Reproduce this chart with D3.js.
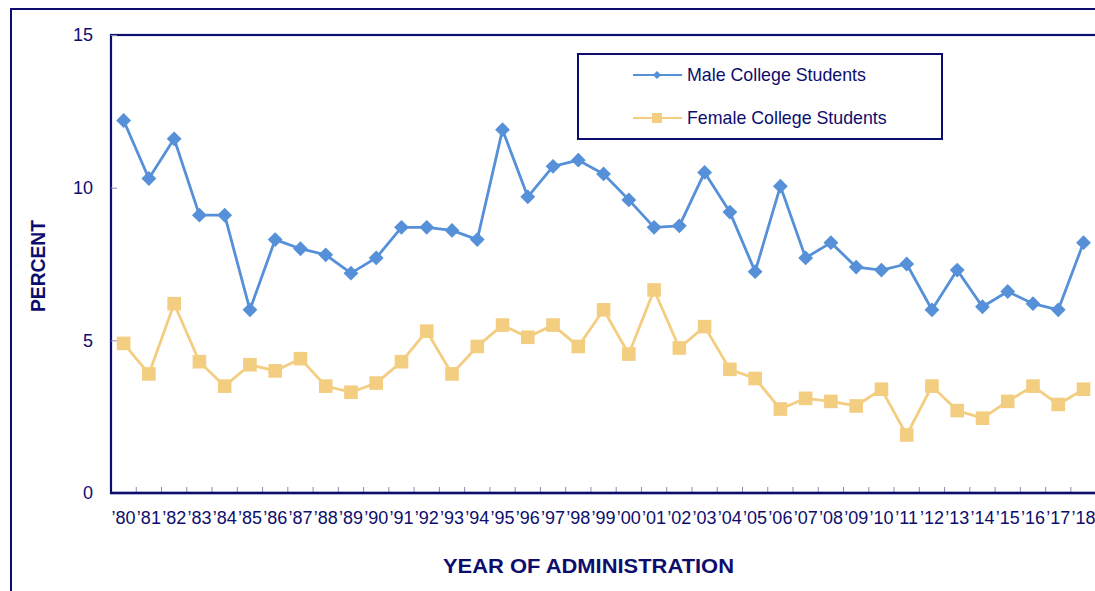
<!DOCTYPE html>
<html>
<head>
<meta charset="utf-8">
<script src="https://cdn.jsdelivr.net/npm/d3@7"></script>
<style>
  html, body { margin: 0; padding: 0; background: #fff; overflow: hidden; }
  svg { display: block; font-family: Arial, "Liberation Sans", sans-serif; }
</style>
</head>
<body>
<svg id="chart" width="1095" height="591"></svg>
<script>
// Years of administration, 1980 through 2018
const years = ["’80","’81","’82","’83","’84","’85","’86","’87","’88","’89",
               "’90","’91","’92","’93","’94","’95","’96","’97","’98","’99",
               "’00","’01","’02","’03","’04","’05","’06","’07","’08","’09",
               "’10","’11","’12","’13","’14","’15","’16","’17","’18"];

// Percent of students, by sex
const maleValues = [12.2, 10.3, 11.6, 9.1, 9.1, 6.0, 8.3, 8.0, 7.8, 7.2,
                    7.7, 8.7, 8.7, 8.6, 8.3, 11.9, 9.7, 10.7, 10.9, 10.45,
                    9.6, 8.7, 8.75, 10.5, 9.2, 7.25, 10.05, 7.7, 8.2, 7.4,
                    7.3, 7.5, 6.0, 7.3, 6.1, 6.6, 6.2, 6.0, 8.2];
const femaleValues = [4.9, 3.9, 6.2, 4.3, 3.5, 4.2, 4.0, 4.4, 3.5, 3.3,
                      3.6, 4.3, 5.3, 3.9, 4.8, 5.5, 5.1, 5.5, 4.8, 6.0,
                      4.55, 6.65, 4.75, 5.45, 4.05, 3.75, 2.75, 3.1, 3.0, 2.85,
                      3.4, 1.9, 3.5, 2.7, 2.45, 3.0, 3.5, 2.9, 3.4];

const yTicks = [0, 5, 10, 15];
const seriesNames = ["Male College Students", "Female College Students"];

const navy = "#0d0d6e";
const tickGrey = "#8a8ab4";
const maleColor = "#5590D8";
const femaleColor = "#F3CD80";

const svg = d3.select("#chart");

const plot = { left: 111, top: 35, bottom: 493, band: 25.26 };
plot.right = plot.left + plot.band * years.length;

const x = d3.scaleBand().domain(years).range([plot.left, plot.right]).padding(0);
const y = d3.scaleLinear().domain([0, 15]).range([plot.bottom, plot.top]);

// outer frame
svg.append("rect")
  .attr("x", 11).attr("y", 9).attr("width", 1100).attr("height", 600)
  .attr("fill", "none").attr("stroke", navy).attr("stroke-width", 2);

// plot area frame
svg.append("rect")
  .attr("x", plot.left).attr("y", plot.top)
  .attr("width", plot.right - plot.left).attr("height", plot.bottom - plot.top)
  .attr("fill", "none").attr("stroke", navy).attr("stroke-width", 2.2);

// y axis
const yAxis = svg.append("g")
  .attr("transform", `translate(${plot.left},0)`)
  .call(d3.axisLeft(y).tickValues(yTicks).tickFormat(d3.format("d"))
        .tickSizeInner(-6).tickSizeOuter(0).tickPadding(18));
yAxis.select(".domain").remove();
yAxis.selectAll(".tick line").attr("stroke", tickGrey).attr("stroke-width", 1);
yAxis.selectAll(".tick text")
  .attr("fill", navy).attr("font-size", 18)
  .attr("font-family", "Arial, 'Liberation Sans', sans-serif");

// x axis labels
const xAxis = svg.append("g")
  .attr("transform", `translate(0,${plot.bottom})`)
  .call(d3.axisBottom(x).tickSize(0).tickPadding(18));
xAxis.select(".domain").remove();
xAxis.selectAll(".tick text")
  .attr("fill", navy).attr("font-size", 18)
  .attr("font-family", "Arial, 'Liberation Sans', sans-serif");

// x tick marks at category boundaries
svg.append("g").selectAll("line")
  .data(years.slice(1))
  .join("line")
  .attr("x1", d => x(d)).attr("x2", d => x(d))
  .attr("y1", plot.bottom).attr("y2", plot.bottom - 6)
  .attr("stroke", tickGrey).attr("stroke-width", 1);

// bottom axis line
svg.append("line")
  .attr("x1", plot.left - 1).attr("x2", plot.right)
  .attr("y1", plot.bottom).attr("y2", plot.bottom)
  .attr("stroke", navy).attr("stroke-width", 2.6);

// axis titles
svg.append("text")
  .attr("x", 588.5).attr("y", 572.5)
  .attr("text-anchor", "middle")
  .attr("font-size", 20).attr("font-weight", "bold").attr("fill", navy)
  .attr("textLength", 291).attr("lengthAdjust", "spacingAndGlyphs")
  .text("YEAR OF ADMINISTRATION");

svg.append("text")
  .attr("transform", "translate(45,266) rotate(-90)")
  .attr("text-anchor", "middle")
  .attr("font-size", 20).attr("font-weight", "bold").attr("fill", navy)
  .attr("textLength", 92).attr("lengthAdjust", "spacingAndGlyphs")
  .text("PERCENT");

const cx = d => x(d) + x.bandwidth() / 2;
const line = d3.line().x(d => cx(d.year)).y(d => y(d.value));

const maleData = years.map((yr, i) => ({ year: yr, value: maleValues[i] }));
const femaleData = years.map((yr, i) => ({ year: yr, value: femaleValues[i] }));

const diamond = d3.symbol().type(d3.symbolSquare).size(110);
const square = d3.symbol().type(d3.symbolSquare).size(185);

// male series
svg.append("path").datum(maleData)
  .attr("d", line).attr("fill", "none")
  .attr("stroke", maleColor).attr("stroke-width", 2.8).attr("stroke-linejoin", "round");
svg.append("g").selectAll("path")
  .data(maleData).join("path")
  .attr("d", diamond)
  .attr("transform", d => `translate(${cx(d.year)},${y(d.value)}) rotate(45)`)
  .attr("fill", maleColor);

// female series
svg.append("path").datum(femaleData)
  .attr("d", line).attr("fill", "none")
  .attr("stroke", femaleColor).attr("stroke-width", 2.8).attr("stroke-linejoin", "round");
svg.append("g").selectAll("path")
  .data(femaleData).join("path")
  .attr("d", square)
  .attr("transform", d => `translate(${cx(d.year)},${y(d.value)})`)
  .attr("fill", femaleColor);

// legend
const legend = svg.append("g");
legend.append("rect")
  .attr("x", 578).attr("y", 54).attr("width", 364).attr("height", 85)
  .attr("fill", "#fff").attr("stroke", navy).attr("stroke-width", 2);

const legendItems = [
  { name: seriesNames[0], color: maleColor, sym: d3.symbol().type(d3.symbolSquare).size(34), rot: 45, yy: 75 },
  { name: seriesNames[1], color: femaleColor, sym: d3.symbol().type(d3.symbolSquare).size(100), rot: 0, yy: 118 }
];
const li = legend.selectAll("g.item").data(legendItems).join("g").attr("class", "item");
li.append("line")
  .attr("x1", 633).attr("x2", 682)
  .attr("y1", d => d.yy).attr("y2", d => d.yy)
  .attr("stroke", d => d.color).attr("stroke-width", 2.2);
li.append("path")
  .attr("d", d => d.sym())
  .attr("transform", d => `translate(657,${d.yy}) rotate(${d.rot})`)
  .attr("fill", d => d.color);
li.append("text")
  .attr("x", 687).attr("y", d => d.yy + 6)
  .attr("font-size", 17.8).attr("fill", navy)
  .text(d => d.name);
</script>
</body>
</html>
